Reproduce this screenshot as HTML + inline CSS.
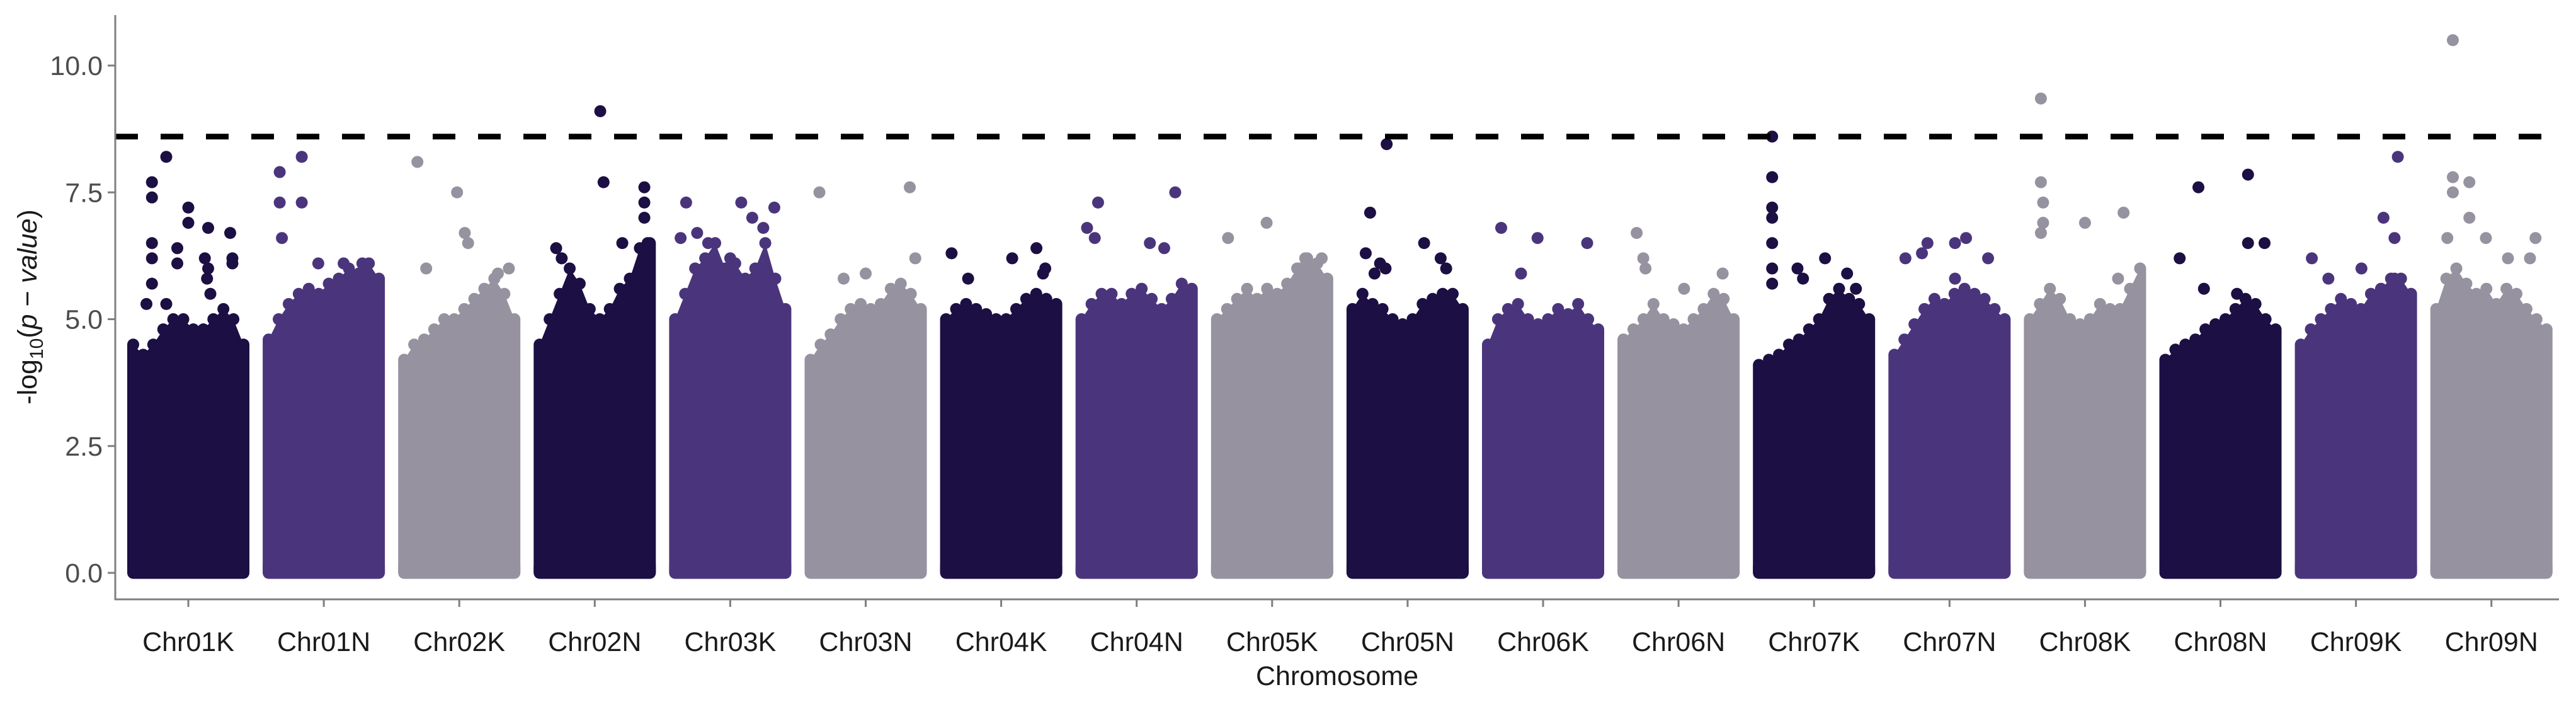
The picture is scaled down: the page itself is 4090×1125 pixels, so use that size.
<!DOCTYPE html>
<html>
<head>
<meta charset="utf-8">
<style>
  html,body{margin:0;padding:0;background:#fff;}
  svg{display:block;font-family:"Liberation Sans",sans-serif;}
</style>
</head>
<body>
<svg id="chart" width="4090" height="1125" viewBox="0 0 4090 1125" xmlns="http://www.w3.org/2000/svg">
  <g id="marks"></g>
  <g id="axes"></g>
  <text x="2123" y="1087" text-anchor="middle" font-size="43" fill="#1a1a1a">Chromosome</text>
  <text transform="translate(58,487) rotate(-90)" text-anchor="middle" font-size="43" fill="#1a1a1a">-log<tspan font-size="30" dy="10">10</tspan><tspan dy="-10">(</tspan><tspan font-style="italic">p</tspan> − <tspan font-style="italic">value</tspan>)</text>
</svg>
<script>
const chromosomes = ["Chr01K","Chr01N","Chr02K","Chr02N","Chr03K","Chr03N","Chr04K","Chr04N","Chr05K","Chr05N","Chr06K","Chr06N","Chr07K","Chr07N","Chr08K","Chr08N","Chr09K","Chr09N"];
const yTicks = [0, 2.5, 5, 7.5, 10];
const yTickLabels = ["0.0","2.5","5.0","7.5","10.0"];
const threshold = 8.6;
// dense-region envelope (value) sampled evenly across each chromosome
const ridges = [
 [4.5,4.3,4.5,4.8,5.0,5.0,4.8,4.8,5.0,5.2,5.0,4.5],
 [4.6,5.0,5.3,5.5,5.6,5.5,5.7,5.8,6.0,5.9,6.1,5.8],
 [4.2,4.5,4.6,4.8,5.0,5.0,5.2,5.4,5.6,5.8,5.5,5.0],
 [4.5,5.0,5.5,6.0,5.7,5.2,5.0,5.2,5.6,5.8,6.4,6.5],
 [5.0,5.5,6.0,6.2,6.5,6.0,6.1,5.8,6.0,6.5,5.8,5.2],
 [4.2,4.5,4.7,5.0,5.2,5.3,5.2,5.3,5.6,5.7,5.5,5.2],
 [5.0,5.2,5.3,5.2,5.1,5.0,5.0,5.2,5.4,5.5,5.4,5.3],
 [5.0,5.3,5.5,5.5,5.3,5.5,5.6,5.4,5.2,5.4,5.7,5.6],
 [5.0,5.2,5.4,5.6,5.4,5.6,5.5,5.7,6.0,6.2,6.1,5.8],
 [5.2,5.5,5.3,5.2,5.0,4.9,5.0,5.3,5.4,5.5,5.5,5.2],
 [4.5,5.0,5.2,5.3,5.0,4.9,5.0,5.2,5.1,5.3,5.0,4.8],
 [4.6,4.8,5.0,5.3,5.0,4.9,4.8,5.0,5.2,5.5,5.4,5.0],
 [4.1,4.2,4.3,4.5,4.6,4.8,5.0,5.4,5.6,5.4,5.3,5.0],
 [4.3,4.6,4.9,5.2,5.4,5.3,5.5,5.6,5.5,5.4,5.2,5.0],
 [5.0,5.3,5.6,5.4,5.0,4.9,5.0,5.3,5.2,5.2,5.6,6.0],
 [4.2,4.4,4.5,4.6,4.8,4.9,5.0,5.2,5.4,5.3,5.0,4.8],
 [4.5,4.8,5.0,5.2,5.4,5.3,5.2,5.5,5.6,5.8,5.8,5.5],
 [5.2,5.8,6.0,5.7,5.5,5.6,5.3,5.6,5.5,5.2,5.0,4.8]
];
// outlier SNPs: [position fraction within chromosome, -log10 p]
const outliers = [
 [[0.17,7.7],[0.17,7.4],[0.3,8.2],[0.17,6.5],[0.17,6.2],[0.17,5.7],[0.5,7.2],[0.5,6.9],[0.68,6.8],[0.65,6.2],[0.68,6.0],[0.67,5.8],[0.88,6.7],[0.9,6.2],[0.9,6.1],[0.4,6.4],[0.4,6.1],[0.12,5.3],[0.3,5.3],[0.7,5.5]],
 [[0.1,7.9],[0.1,7.3],[0.12,6.6],[0.3,8.2],[0.3,7.3],[0.45,6.1],[0.68,6.1],[0.85,6.1]],
 [[0.12,8.1],[0.48,7.5],[0.55,6.7],[0.58,6.5],[0.2,6.0],[0.95,6.0],[0.85,5.9]],
 [[0.55,9.1],[0.58,7.7],[0.95,7.6],[0.95,7.3],[0.95,7.0],[0.75,6.5],[0.15,6.4],[0.2,6.2],[0.98,6.5]],
 [[0.05,6.6],[0.1,7.3],[0.2,6.7],[0.3,6.5],[0.6,7.3],[0.7,7.0],[0.8,6.8],[0.9,7.2],[0.5,6.2]],
 [[0.08,7.5],[0.9,7.6],[0.95,6.2],[0.5,5.9],[0.3,5.8]],
 [[0.05,6.3],[0.2,5.8],[0.6,6.2],[0.82,6.4],[0.88,5.9],[0.9,6.0]],
 [[0.05,6.8],[0.15,7.3],[0.12,6.6],[0.62,6.5],[0.85,7.5],[0.75,6.4]],
 [[0.1,6.6],[0.45,6.9],[0.75,6.0],[0.95,6.2],[0.8,6.2]],
 [[0.31,8.45],[0.16,7.1],[0.12,6.3],[0.3,6.0],[0.25,6.1],[0.2,5.9],[0.8,6.2],[0.65,6.5],[0.85,6.0]],
 [[0.12,6.8],[0.45,6.6],[0.9,6.5],[0.3,5.9]],
 [[0.12,6.7],[0.18,6.2],[0.2,6.0],[0.55,5.6],[0.9,5.9]],
 [[0.12,8.6],[0.12,7.8],[0.12,7.2],[0.12,7.0],[0.12,6.5],[0.12,6.0],[0.12,5.7],[0.35,6.0],[0.4,5.8],[0.6,6.2],[0.8,5.9],[0.88,5.6]],
 [[0.1,6.2],[0.25,6.3],[0.3,6.5],[0.55,6.5],[0.65,6.6],[0.85,6.2],[0.55,5.8]],
 [[0.1,9.35],[0.1,7.7],[0.12,7.3],[0.12,6.9],[0.1,6.7],[0.5,6.9],[0.85,7.1],[0.8,5.8]],
 [[0.13,6.2],[0.3,7.6],[0.35,5.6],[0.65,5.5],[0.75,7.85],[0.75,6.5],[0.9,6.5]],
 [[0.1,6.2],[0.25,5.8],[0.55,6.0],[0.75,7.0],[0.85,6.6],[0.88,8.2],[0.85,5.8]],
 [[0.15,10.5],[0.15,7.8],[0.15,7.5],[0.3,7.7],[0.3,7.0],[0.1,6.6],[0.45,6.6],[0.65,6.2],[0.9,6.6],[0.85,6.2]]
];
const palette = ["#1c0f43","#4a357c","#96929f"];

const NS = "http://www.w3.org/2000/svg";
const plotL = 183, plotR = 4063, axisY = 951;
const R = 9.5;
const y = v => 909 - 80.5 * v;
const bandX0 = i => 202 + i * 215.1;
const bandW = 194;
const x = (i, f) => bandX0(i) + R + f * (bandW - 2 * R);

function mk(tag, attrs, parent) {
  const el = document.createElementNS(NS, tag);
  for (const k in attrs) el.setAttribute(k, attrs[k]);
  parent.appendChild(el);
  return el;
}
const marks = document.getElementById('marks');
const axes = document.getElementById('axes');

chromosomes.forEach((name, i) => {
  const col = palette[i % 3];
  const g = mk('g', {fill: col}, marks);
  
  
  const rg = ridges[i];
  const n = rg.length;
  let d = `M ${bandX0(i)} ${y(0)} L ${bandX0(i)} ${y(rg[0])}`;
  rg.forEach((v, k) => { d += ` L ${x(i, k / (n - 1))} ${y(v)}`; });
  d += ` L ${bandX0(i) + bandW} ${y(rg[n - 1])} L ${bandX0(i) + bandW} ${y(0)} Z`;
  const body = mk('path', {d: d}, g);
  
  
  const base = mk('rect', {x: bandX0(i), y: y(0) - 20, width: bandW, height: 20 + R, rx: R}, g);
  
  
  rg.forEach((v, k) => {
    const c = mk('circle', {cx: x(i, k / (n - 1)), cy: y(v), r: R}, g);
    
    
  });
  outliers[i].forEach(p => {
    const c = mk('circle', {cx: x(i, p[0]), cy: y(p[1]), r: R}, g);
    
    
  });
  const t = mk('text', {x: bandX0(i) + bandW / 2, y: 1033, 'text-anchor': 'middle', 'font-size': 43, fill: '#1a1a1a'}, axes);
  t.textContent = name;
  
  
  const tk = mk('line', {x1: bandX0(i) + bandW / 2, x2: bandX0(i) + bandW / 2, y1: axisY, y2: axisY + 12, stroke: '#7f7f7f', 'stroke-width': 3}, axes);
  
  
});

const th = mk('line', {x1: plotL, x2: plotR, y1: y(threshold), y2: y(threshold), stroke: '#000', 'stroke-width': 9, 'stroke-dasharray': '36 36'}, marks);



const ya = mk('line', {x1: plotL, x2: plotL, y1: 24, y2: axisY + 1.5, stroke: '#7f7f7f', 'stroke-width': 3}, axes);


const xa = mk('line', {x1: plotL - 1.5, x2: plotR, y1: axisY, y2: axisY, stroke: '#7f7f7f', 'stroke-width': 3}, axes);



yTicks.forEach((v, k) => {
  const tk = mk('line', {x1: plotL - 12, x2: plotL, y1: y(v), y2: y(v), stroke: '#7f7f7f', 'stroke-width': 3}, axes);
  
  
  const t = mk('text', {x: 163, y: y(v) + 15, 'text-anchor': 'end', 'font-size': 43, fill: '#4d4d4d'}, axes);
  t.textContent = yTickLabels[k];
  
  
});
</script>
</body>
</html>
